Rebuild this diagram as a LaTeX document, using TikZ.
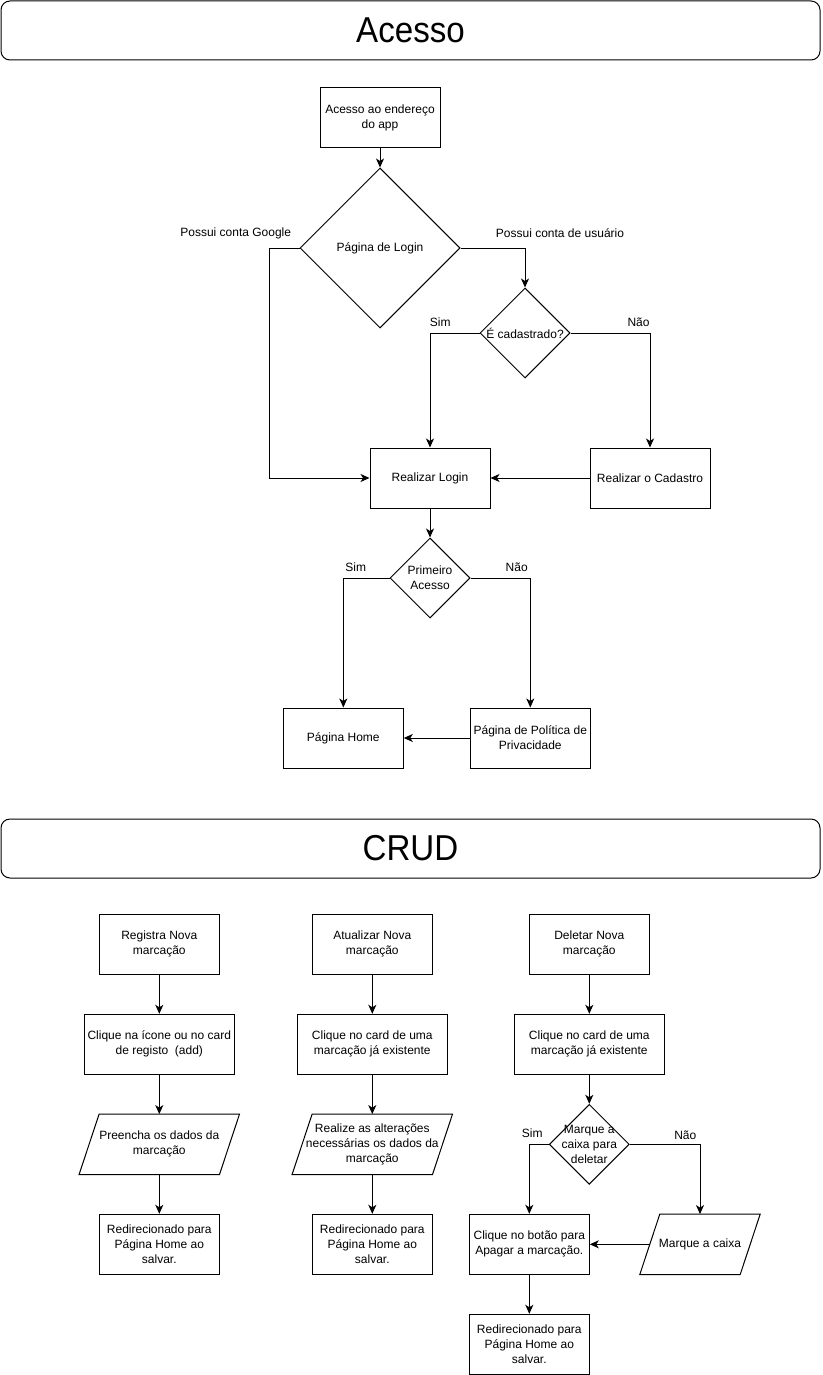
\documentclass[tikz,border=0pt]{standalone}
\usepackage{fontspec}
\setmainfont{Liberation Sans}
\usetikzlibrary{shapes.geometric,arrows.meta,calc}

% outline of a parallelogram around an (invisible) rectangular node
\newcommand\drawpara[1]{%
  \draw[line width=1pt]
    ($(#1.south west)+(-10,0)$) -- ($(#1.north west)+(10,0)$) --
    ($(#1.north east)+(10,0)$) -- ($(#1.south east)+(-10,0)$) -- cycle;}
% slightly narrow heading lettering
\newcommand\headtext[1]{\scalebox{0.92}[1]{#1}}

\begin{document}
\begin{tikzpicture}[x=1pt,y=-1pt,
  every node/.style={font=\fontsize{12}{15}\selectfont, align=center, inner sep=0pt},
  box/.style={draw, line width=1pt, minimum width=120pt, minimum height=60pt},
  widebox/.style={box, minimum width=150pt},
  dia/.style={draw, line width=1pt, diamond, aspect=1},
  paratext/.style={minimum height=60pt, minimum width=140pt},
  banner/.style={draw, line width=1pt, rounded corners=9pt, minimum width=819pt,
    minimum height=59pt, font=\fontsize{36}{40}\selectfont},
  lbl/.style={},
  link/.style={line width=1pt, -{Stealth[length=9pt,width=8pt,inset=2.5pt]}}
]
\useasboundingbox (0,0) rectangle (822,1375);

% ---------------- Acesso ----------------
\node[banner] (bannerA) at (410.5,30.5) {\headtext{Acesso}};

\node[box] (addr) at (380,118) {Acesso ao endereço\\do app};
\node[dia, minimum width=160pt, minimum height=160pt,
      label={center:Página de Login}] (login) at (380,248) {};
\node[dia, minimum width=90pt, minimum height=90pt,
      label={center:É cadastrado?}] (cad) at (525,333) {};
\node[box] (rlogin) at (430,478) {Realizar Login};
\node[box] (cadastro) at (650,478) {Realizar o Cadastro};
\node[dia, minimum width=80pt, minimum height=80pt,
      label={[align=center]center:Primeiro\\Acesso}] (prim) at (430,578) {};
\node[box] (home) at (343.3,738) {Página Home};
\node[box] (priv) at (530.3,738) {Página de Política de\\Privacidade};

\node[lbl] (lgoogle) at (235.7,233) {Possui conta Google};
\node[lbl] (luser) at (560,233) {Possui conta de usuário};
\node[lbl] (lsim1) at (440.3,322.7) {Sim};
\node[lbl] (lnao1) at (638.5,322.7) {Não};
\node[lbl] (lsim2) at (355.7,567.3) {Sim};
\node[lbl] (lnao2) at (516.7,567.3) {Não};

\draw[link] (addr.south) -- (login.north);
\draw[link] (login.west) -- ++(-30,0) |- (rlogin.west);
\draw[link] (login.east) -| (cad.north);
\draw[link] (cad.west) -| (rlogin.north);
\draw[link] (cad.east) -| (cadastro.north);
\draw[link] (cadastro.west) -- (rlogin.east);
\draw[link] (rlogin.south) -- (prim.north);
\draw[link] (prim.west) -| (home.north);
\draw[link] (prim.east) -| (priv.north);
\draw[link] (priv.west) -- (home.east);

% ---------------- CRUD ----------------
\node[banner] (bannerC) at (410.5,848.5) {\headtext{CRUD}};

% create
\node[box] (reg) at (159.3,944.3) {Registra Nova\\marcação};
\node[widebox] (reg2) at (159.3,1044.3) {Clique na ícone ou no card\\de registo\ \ (add)};
\node[paratext] (reg3) at (159.3,1144.3) {Preencha os dados da\\marcação};
\drawpara{reg3}
\node[box] (reg4) at (159.3,1244.3) {Redirecionado para\\Página Home ao\\salvar.};
\draw[link] (reg.south) -- (reg2.north);
\draw[link] (reg2.south) -- (reg3.north);
\draw[link] (reg3.south) -- (reg4.north);

% update
\node[box] (upd) at (372.3,944.3) {Atualizar Nova\\marcação};
\node[widebox] (upd2) at (372.3,1044.3) {Clique no card de uma\\marcação já existente};
\node[paratext] (upd3) at (372.3,1144.3) {Realize as alterações\\necessárias os dados da\\marcação};
\drawpara{upd3}
\node[box] (upd4) at (372.3,1244.3) {Redirecionado para\\Página Home ao\\salvar.};
\draw[link] (upd.south) -- (upd2.north);
\draw[link] (upd2.south) -- (upd3.north);
\draw[link] (upd3.south) -- (upd4.north);

% delete
\node[box] (del) at (589.3,944.3) {Deletar Nova\\marcação};
\node[widebox] (del2) at (589.3,1044.3) {Clique no card de uma\\marcação já existente};
\node[dia, minimum width=80pt, minimum height=80pt,
      label={[align=center]center:Marque a\\caixa para\\deletar}] (mdel) at (589.3,1144.3) {};
\node[box] (apagar) at (529.3,1244.3) {Clique no botão para\\Apagar a marcação.};
\node[paratext, minimum width=100pt] (mcx) at (700,1244.3) {Marque a caixa};
\drawpara{mcx}
\node[box] (del4) at (529.3,1344.3) {Redirecionado para\\Página Home ao\\salvar.};

\node[lbl] (lsim3) at (532.3,1133.3) {Sim};
\node[lbl] (lnao3) at (685.3,1135) {Não};

\draw[link] (del.south) -- (del2.north);
\draw[link] (del2.south) -- (mdel.north);
\draw[link] (mdel.west) -| (apagar.north);
\draw[link] (mdel.east) -| (mcx.north);
\draw[link] (mcx.west) -- (apagar.east);
\draw[link] (apagar.south) -- (del4.north);
\end{tikzpicture}
\end{document}
